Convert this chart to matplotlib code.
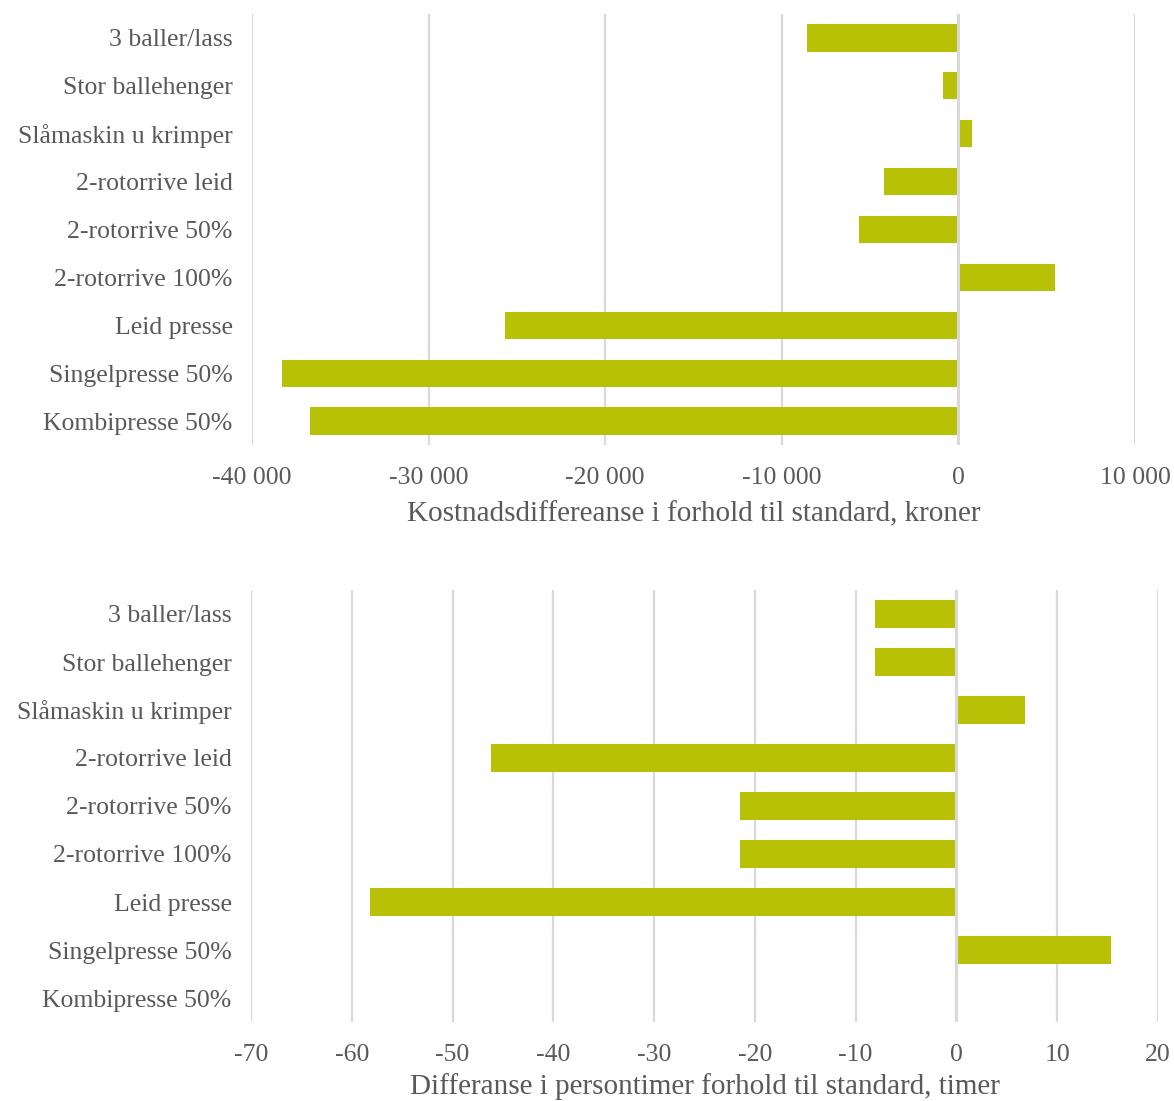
import numpy as np
import matplotlib
matplotlib.use("Agg")
import matplotlib.pyplot as plt
from matplotlib.ticker import FuncFormatter

plt.rcParams['font.family'] = ['Liberation Serif', 'DejaVu Serif']

categories = ['3 baller/lass', 'Stor ballehenger', 'Slåmaskin u krimper',
              '2-rotorrive leid', '2-rotorrive 50%', '2-rotorrive 100%',
              'Leid presse', 'Singelpresse 50%', 'Kombipresse 50%']
kostnad = [-8550, -880, 750, -4200, -5650, 5450, -25700, -38300, -36700]
timer = [-8.1, -8.1, 6.8, -46.2, -21.5, -21.5, -58.2, 15.3, 0]

bar_color = '#B8C106'
grid_color = '#D9D9D9'
text_color = '#595959'

fig = plt.figure(figsize=(11.74, 11.01), dpi=100)
W, H = 1174, 1101
ax1 = fig.add_axes([252 / W, 1 - 445 / H, (1135 - 252) / W, (445 - 14) / H])
ax2 = fig.add_axes([251 / W, 1 - 1022 / H, (1158 - 251) / W, (1022 - 590) / H])


def space_thousands(v, pos):
    s = f"{abs(int(round(v))):,}".replace(',', ' ')
    return ('-' if v < 0 else '') + s


def style(ax, values, xlim, step, xlabel, fmt, labelpad):
    y = np.arange(len(categories))
    ax.barh(y, values, height=0.57, color=bar_color, zorder=3)
    ax.axvline(0, color=grid_color, linewidth=2.2, zorder=4)
    ax.set_yticks(y)
    ax.set_yticklabels(categories)
    ax.set_ylim(len(categories) - 0.5, -0.5)
    ax.set_xlim(*xlim)
    ax.set_xticks(np.arange(xlim[0], xlim[1] + step / 2, step))
    ax.xaxis.set_major_formatter(fmt)
    ax.grid(axis='x', color=grid_color, linewidth=1.6, zorder=0)
    for s in ax.spines.values():
        s.set_visible(False)
    ax.tick_params(length=0, labelsize=18.5, colors=text_color)
    ax.tick_params(axis='x', pad=16)
    ax.tick_params(axis='y', pad=14)
    ax.set_xlabel(xlabel, fontsize=21, color=text_color, labelpad=labelpad)


style(ax1, kostnad, (-40000, 10000), 10000,
      'Kostnadsdiffereanse i forhold til standard, kroner',
      FuncFormatter(space_thousands), 9)
style(ax2, timer, (-70, 20), 10,
      'Differanse i persontimer forhold til standard, timer',
      FuncFormatter(lambda v, p: f"{int(v)}"), 5)

fig.savefig('out.png', dpi=100, facecolor='white')
